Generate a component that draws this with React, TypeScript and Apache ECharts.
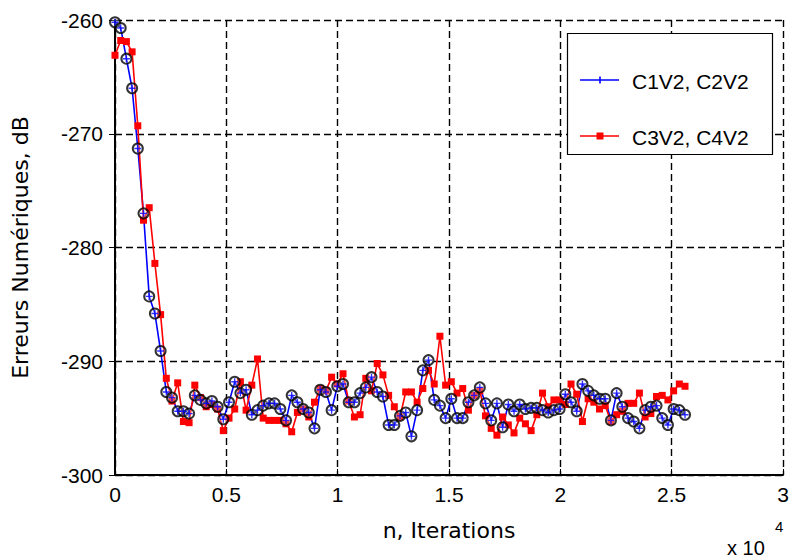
import React, { useEffect, useRef } from "react";
import * as echarts from "echarts";

// Sampling step of the curves (iterations between two points)
const STEP = 256;

// C1V2, C2V2 (blue, "+" with black circles)
const blueErr = [
  -260.2, -260.7, -263.4, -266.0, -271.3, -277.0, -284.3, -285.8, -289.1, -292.7,
  -293.2, -294.4, -294.4, -294.6, -293.0, -293.4, -293.7, -293.5, -294.0, -295.1,
  -293.6, -291.8, -292.8, -292.5, -294.7, -294.3, -293.9, -293.7, -293.7, -294.2,
  -295.2, -293.0, -293.6, -294.2, -294.5, -295.9, -292.5, -292.7, -294.3, -292.2,
  -292.0, -293.6, -293.6, -292.8, -292.3, -291.4, -292.7, -293.1, -295.6, -295.6,
  -294.8, -294.5, -296.6, -294.3, -290.8, -289.9, -293.4, -293.9, -295.0, -293.3,
  -295.0, -295.0, -293.6, -293.0, -292.3, -293.7, -295.2, -293.7, -295.8, -293.8,
  -294.4, -293.8, -294.2, -294.1, -294.1, -294.3, -294.5, -294.3, -294.2, -292.9,
  -293.6, -294.4, -292.0, -292.6, -293.0, -293.3, -293.3, -295.2, -292.8, -294.0,
  -295.0, -295.3, -295.9, -294.3, -294.0, -293.9, -295.0, -295.6, -294.2, -294.3,
  -294.7,
];

// C3V2, C4V2 (red squares)
const redErr = [
  -263.1, -261.8, -261.9, -262.8, -269.3, -277.6, -276.5, -281.4, -285.9, -291.5,
  -293.5, -291.9, -295.3, -295.4, -292.1, -293.2, -294.0, -293.8, -294.2, -296.1,
  -295.0, -294.2, -291.8, -294.3, -292.1, -289.8, -295.0, -295.2, -295.2, -295.2,
  -295.5, -296.2, -294.5, -294.2, -294.9, -293.6, -292.4, -292.6, -291.4, -292.0,
  -291.1, -293.5, -294.9, -294.7, -291.5, -292.6, -290.2, -291.2, -293.0, -294.0,
  -294.9, -292.7, -292.7, -293.6, -292.4, -290.8, -292.0, -287.8, -292.1, -291.8,
  -292.8, -292.4, -294.3, -293.0, -292.6, -294.8, -295.9, -296.5, -294.9, -295.6,
  -296.3, -295.0, -295.5, -296.1, -294.7, -292.8, -294.0, -293.4, -293.4, -293.8,
  -292.0, -292.9, -295.3, -293.3, -293.6, -294.2, -293.9, -295.3, -294.7, -294.4,
  -293.7, -293.7, -292.8, -294.9, -294.6, -293.1, -293.0, -293.4, -292.6, -292.0,
  -292.2,
];

const seriesNames = ["C1V2, C2V2", "C3V2, C4V2"];
const xTickLabels = ["0", "0.5", "1", "1.5", "2", "2.5", "3"];
const yTicks = [-300, -290, -280, -270, -260];
const xAxisTitle = "n, Iterations";
const yAxisTitle = "Erreurs Numériques, dB";
const xScaleNote = "x 10";
const xScaleExp = "4";

const FONT = "Liberation Sans";
const TITLE_FONT = "DejaVu Sans";
const PLUS =
  "path://M4,0 L6,0 L6,4 L10,4 L10,6 L6,6 L6,10 L4,10 L4,6 L0,6 L0,4 L4,4 Z";

export default function App() {
  const ref = useRef<HTMLDivElement>(null);

  useEffect(() => {
    if (!ref.current) return;
    const chart = echarts.init(ref.current, undefined, { renderer: "svg" });

    const blueData = blueErr.map((v, i) => [i * STEP, v]);
    const redData = redErr.map((v, i) => [i * STEP, v]);
    const xMax = 30000;
    const xInterval = 5000;
    const dash = { color: "#000", type: [7, 4] as number[], width: 1.4 };

    chart.setOption({
      animation: false,
      backgroundColor: "#ffffff",
      grid: { left: 115, right: 11, top: 20, bottom: 85, containLabel: false },
      xAxis: [
        {
          type: "value",
          min: 0,
          max: xMax,
          interval: xInterval,
          name: xAxisTitle,
          nameLocation: "middle",
          nameGap: 44,
          nameTextStyle: { fontFamily: TITLE_FONT, fontSize: 22, color: "#000" },
          axisLine: { show: true, lineStyle: { color: "#000", width: 2 } },
          axisTick: { show: true, inside: true, length: 6, lineStyle: { color: "#000" } },
          axisLabel: {
            color: "#000",
            fontFamily: FONT,
            fontSize: 21,
            margin: 9,
            formatter: (v: number) => xTickLabels[Math.round(v / xInterval)] ?? "",
          },
          splitLine: { show: true, lineStyle: dash },
        },
        {
          type: "value",
          position: "top",
          min: 0,
          max: xMax,
          interval: xInterval,
          axisLine: { show: false },
          axisTick: { show: true, inside: true, length: 6, lineStyle: { color: "#000" } },
          axisLabel: { show: false },
          splitLine: { show: false },
        },
      ],
      yAxis: [
        {
          type: "value",
          min: yTicks[0],
          max: yTicks[yTicks.length - 1],
          interval: 10,
          name: yAxisTitle,
          nameLocation: "middle",
          nameGap: 84,
          nameRotate: 90,
          nameTextStyle: { fontFamily: TITLE_FONT, fontSize: 22, color: "#000" },
          axisLine: { show: true, lineStyle: { color: "#000", width: 2 } },
          axisTick: { show: true, inside: true, length: 6, lineStyle: { color: "#000" } },
          axisLabel: { color: "#000", fontFamily: FONT, fontSize: 21, margin: 12 },
          splitLine: { show: true, lineStyle: dash },
        },
        {
          type: "value",
          position: "right",
          min: yTicks[0],
          max: yTicks[yTicks.length - 1],
          interval: 10,
          axisLine: { show: true, lineStyle: { color: "#000", width: 2 } },
          axisTick: { show: true, inside: true, length: 6, lineStyle: { color: "#000" } },
          axisLabel: { show: false },
          splitLine: { show: false },
        },
      ],
      series: [
        {
          name: seriesNames[0],
          type: "line",
          data: blueData,
          symbol: "none",
          lineStyle: { color: "#0000ff", width: 1.6 },
          z: 2,
        },
        {
          name: seriesNames[1],
          type: "line",
          data: redData,
          symbol: "rect",
          symbolSize: 7,
          showAllSymbol: true,
          itemStyle: { color: "#ff0000" },
          lineStyle: { color: "#ff0000", width: 1.6 },
          z: 3,
        },
        {
          name: seriesNames[0] + " o",
          type: "scatter",
          data: blueData,
          symbol: "circle",
          symbolSize: 10,
          itemStyle: { color: "rgba(255,255,255,0.35)", borderColor: "#000", borderWidth: 2 },
          z: 4,
        },
        {
          name: seriesNames[0] + " +",
          type: "scatter",
          data: blueData,
          symbol: PLUS,
          symbolSize: 7,
          itemStyle: { color: "#0000ff" },
          z: 5,
        },
      ],
      graphic: [
        {
          type: "rect",
          z: 100,
          shape: { x: 567.5, y: 33.5, width: 205, height: 121 },
          style: { fill: "#fff", stroke: "#000", lineWidth: 1.2 },
        },
        {
          type: "line",
          z: 101,
          shape: { x1: 580, y1: 80, x2: 619, y2: 80 },
          style: { stroke: "#0000ff", lineWidth: 1.6 },
        },
        {
          type: "line",
          z: 101,
          shape: { x1: 600, y1: 76.5, x2: 600, y2: 83.5 },
          style: { stroke: "#0000ff", lineWidth: 1.6 },
        },
        {
          type: "text",
          z: 101,
          style: {
            x: 632,
            y: 81,
            text: seriesNames[0],
            fill: "#000",
            font: `21px "${FONT}"`,
            verticalAlign: "middle",
          },
        },
        {
          type: "line",
          z: 101,
          shape: { x1: 580, y1: 136, x2: 619, y2: 136 },
          style: { stroke: "#ff0000", lineWidth: 1.6 },
        },
        {
          type: "rect",
          z: 101,
          shape: { x: 596.5, y: 132.5, width: 7, height: 7 },
          style: { fill: "#ff0000" },
        },
        {
          type: "text",
          z: 101,
          style: {
            x: 632,
            y: 137,
            text: seriesNames[1],
            fill: "#000",
            font: `21px "${FONT}"`,
            verticalAlign: "middle",
          },
        },
        {
          type: "text",
          z: 101,
          style: {
            x: 727,
            y: 548,
            text: xScaleNote,
            fill: "#000",
            font: `20px "${FONT}"`,
            verticalAlign: "middle",
          },
        },
        {
          type: "text",
          z: 101,
          style: {
            x: 775,
            y: 526,
            text: xScaleExp,
            fill: "#000",
            font: `15px "${FONT}"`,
            verticalAlign: "middle",
          },
        },
      ],
    });

    return () => chart.dispose();
  }, []);

  return (
    <div
      ref={ref}
      style={{ position: "fixed", left: 0, top: 0, width: 794, height: 560, background: "#fff" }}
    />
  );
}
